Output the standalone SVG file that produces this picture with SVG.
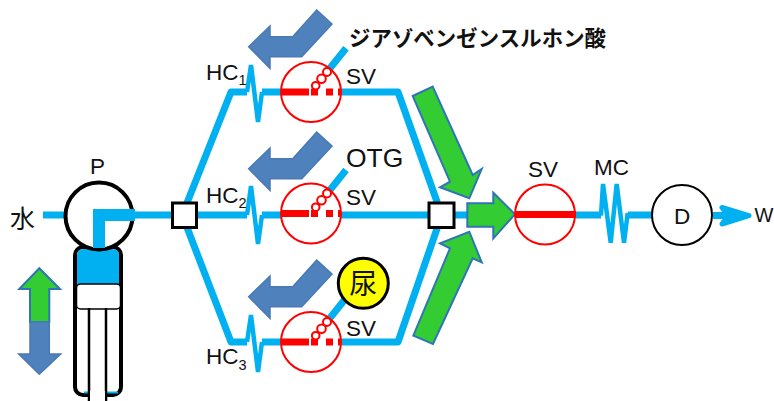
<svg xmlns="http://www.w3.org/2000/svg" width="774" height="401" viewBox="0 0 774 401">
<style>
text{font-family:"Liberation Sans",Arial,sans-serif;font-size:22.500px;fill:#111}
.cjk{font-family:"Noto Sans CJK JP",sans-serif}
.sub{font-size:14.500px}
.pipe{fill:none;stroke:#00b0f0;stroke-width:7;stroke-linejoin:round}
.thin{fill:none;stroke:#00b0f0;stroke-width:4.500;stroke-linejoin:miter}
.green{fill:#33cc33;stroke:#2e75b6;stroke-width:2;stroke-linejoin:miter}
.blue{fill:#4f81bd;stroke:#4a7ab5;stroke-width:1.500}
.sq{fill:#fff;stroke:#000;stroke-width:3}
.red{fill:#f00}
.ring{fill:#fff;stroke:#f00;stroke-width:2}
.ringn{fill:none;stroke:#f00;stroke-width:2}
</style>
<defs>
<polygon id="bent" class="blue" points="316.700,10 332,24 301.700,56.700 270,56.700 270,68.300 248.700,46.700 270,26 270,36.700 292.700,36.700"/>
<g id="valve">
<circle class="ring" cx="311" cy="92" r="30"/>
<rect class="red" x="281" y="88.500" width="28" height="7"/>
<rect class="red" x="311" y="88.500" width="7" height="7"/>
<rect class="red" x="326" y="88.500" width="7" height="7"/>
<rect class="red" x="338" y="88.500" width="3" height="7"/>
<circle class="ring" cx="315.700" cy="85.700" r="3.800"/>
<circle class="ring" cx="321.500" cy="78.700" r="4.300"/>
<circle class="ring" cx="327" cy="72" r="4"/>
</g>
</defs>
<g id="connectors">
<path class="pipe" d="M43 215H66M135 215H172M197 215H247M262 215H428M455 215H470M576 215H601M628 215H652"/>
<path class="pipe" d="M183 213L231 92H247M262 92H398L441 213"/>
<path class="pipe" d="M183 217L231 342H247M262 342H398L441 217"/>
<path class="pipe" d="M330 68.300L346 48.300M330 190L346 170M330 318L346 298"/>
<path class="thin" d="M247 92L251 65L258 122L262 92"/>
<path class="thin" d="M247 215L251 186L258 244L262 215"/>
<path class="thin" d="M247 342L251 315L258 372L262 342"/>
<path class="thin" d="M601 215.700L603 184L610.700 242.700L616.700 184L624 242.700L627.700 213"/>
<path fill="#00b0f0" stroke="#00b0f0" stroke-width="5" stroke-linejoin="round" d="M722 207.500L749 215.700L722 224L728 215.700Z"/>
<path class="pipe" d="M713 215.500H740"/>
</g>
<g id="pump">
<rect x="75" y="247" width="46" height="148" rx="8" fill="#fff" stroke="#000" stroke-width="4"/>
<path d="M77 285V255Q77 249 84 249H112Q119 249 119 255V285Z" fill="#00b0f0"/>
<path d="M84 392.500H118" stroke="#00b0f0" stroke-width="2"/>
<rect x="76.500" y="284" width="44" height="25" rx="4" fill="#fff" stroke="#000" stroke-width="1.500"/>
<path d="M89 308V401M106 308V401" stroke="#000" stroke-width="2.500"/>
<rect x="90" y="391" width="15" height="10" fill="#fff"/>
<circle cx="99" cy="216" r="33.500" fill="#fff" stroke="#000" stroke-width="4"/>
<path d="M99 248V215H135" fill="none" stroke="#00b0f0" stroke-width="12"/>
<text x="90" y="174">P</text>
<text class="cjk" x="10" y="228" style="font-size:25px">水</text>
</g>
<g id="stroke-arrows">
<polygon class="green" points="39.300,268.300 60,289 49.300,289 49.300,322 30,322 30,289 19.300,289"/>
<polygon class="blue" points="30,322 49.300,322 49.300,354 60.700,354 39.300,374.300 18.700,354 30,354"/>
</g>
<g id="junction-1"><rect class="sq" x="172.500" y="203" width="24" height="24.500"/></g>
<g id="junction-2"><rect class="sq" x="429" y="203" width="25" height="24.500"/></g>
<g id="flow-1"><use href="#bent"/></g>
<g id="flow-2"><use href="#bent" y="122"/></g>
<g id="flow-3"><use href="#bent" y="250"/></g>
<g id="valve-1"><use href="#valve"/><text x="346" y="84">SV</text></g>
<g id="valve-2"><use href="#valve" y="121.500"/><text x="346" y="205">SV</text></g>
<g id="valve-3"><use href="#valve" y="250"/><text x="346" y="336">SV</text></g>
<g id="hc-1"><text x="206" y="80">HC<tspan class="sub" dy="5">1</tspan></text></g>
<g id="hc-2"><text x="206" y="203">HC<tspan class="sub" dy="5">2</tspan></text></g>
<g id="hc-3"><text x="206" y="364">HC<tspan class="sub" dy="6">3</tspan></text></g>
<g id="reagent-1"><text class="cjk" x="349" y="46" style="font-size:21.400px;font-weight:700" textLength="257">ジアゾベンゼンスルホン酸</text></g>
<g id="reagent-2"><text x="346" y="167" style="font-size:26.500px">OTG</text></g>
<g id="reagent-3"><circle cx="363.300" cy="283.300" r="25" fill="#ff0" stroke="#000" stroke-width="3"/><text class="cjk" x="363.300" y="294" text-anchor="middle" style="font-size:28px">尿</text></g>
<g id="green-arrows">
<polygon class="green" points="412.700,96 432.700,86.700 472.700,175 481.700,169 469.300,198.300 440,187.300 450,181.700"/>
<polygon class="green" points="413.300,335.700 433,344 472.700,258.300 481.700,262.300 469.300,231.700 440,243.300 450,248.300"/>
<polygon class="green" points="467.300,203.300 493.300,203.300 493.300,192.700 515,214.300 493.300,238.300 493.300,226.700 467.300,226.700"/>
</g>
<g id="valve-main">
<circle class="ringn" cx="545" cy="214.500" r="30"/>
<rect class="red" x="515" y="211" width="61" height="7"/>
<text x="528" y="177">SV</text>
</g>
<g id="mc"><text x="594" y="175">MC</text></g>
<g id="detector"><circle cx="682" cy="215" r="30" fill="#fff" stroke="#000" stroke-width="2"/><text x="682" y="224" text-anchor="middle">D</text></g>
<g id="waste"><text x="754.500" y="222" style="font-size:20px">W</text></g>
</svg>
